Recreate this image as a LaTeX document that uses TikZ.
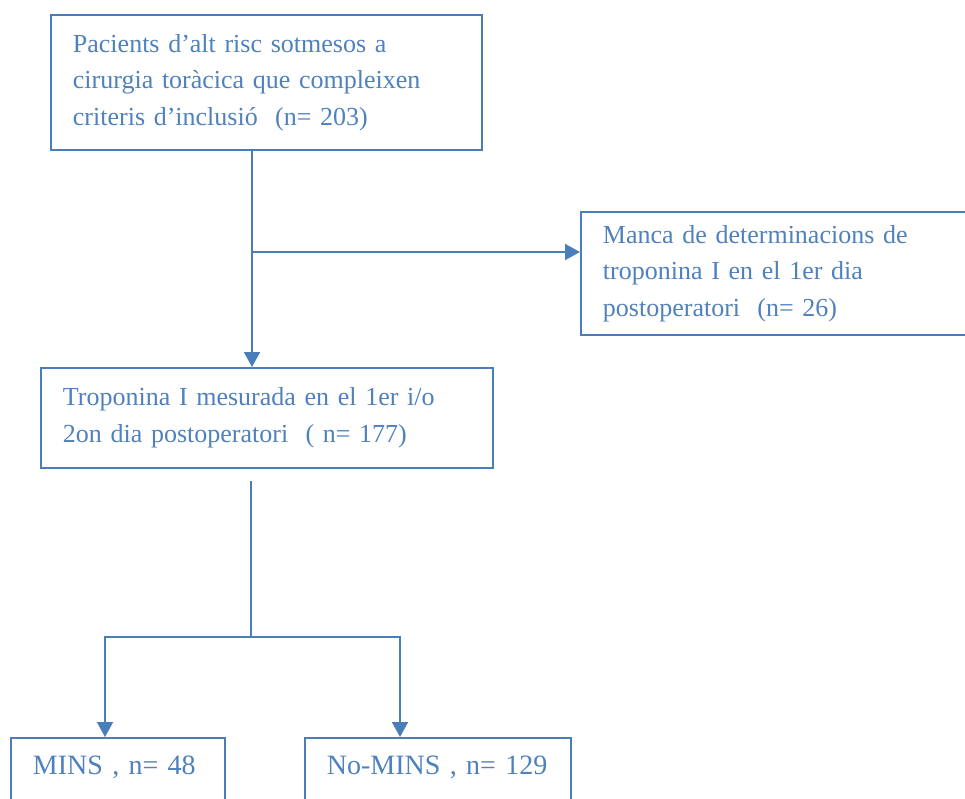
\documentclass[tikz,border=0pt]{standalone}
\usepackage{fontspec}
\setmainfont{Liberation Serif}
\usetikzlibrary{arrows.meta}
\definecolor{flowline}{HTML}{4A7EBB}
\definecolor{flowtext}{HTML}{4F81BD}

\begin{document}
\begin{tikzpicture}[x=1pt,y=-1pt,font=\fontsize{26}{36.5}\selectfont,
  box/.style={draw=flowline,line width=1.9pt,text=flowtext,anchor=north west,
              align=left,inner xsep=22pt},
  leaf/.style={box,font=\fontsize{28}{34}\selectfont,text height=19pt,
               text depth=50pt,inner ysep=18pt},
  arr/.style={flowline,line width=1.9pt,-{Triangle[length=15pt,width=16pt]}}]
  \useasboundingbox (0,0) rectangle (965,798);
  \node[box,text width=387pt,minimum height=135pt] (incl) at (50,14)
       {Pacients d’alt risc sotmesos a\\cirurgia toràcica que compleixen\\criteris d’inclusió~ (n= 203)};
  \node[box,text width=362pt,minimum height=123pt] (excl) at (580,211)
       {Manca de determinacions de\\troponina I en el 1er dia\\postoperatori~ (n= 26)};
  \node[box,text width=408pt,minimum height=100pt] (trop) at (40,367)
       {Troponina I mesurada en el 1er i/o\\2on dia postoperatori~ ( n= 177)};
  \node[leaf,text width=170pt] (mins) at (10,737) {MINS , n= 48};
  \node[leaf,text width=222pt] (nomins) at (304,737) {No-MINS , n= 129};
  \coordinate (stem) at (252,0);
  \coordinate (branch) at (252,252);
  \coordinate (gap) at (251,481);
  \coordinate (forkL) at (105,637);
  \coordinate (forkR) at (400,637);
  \draw[arr] (incl.south -| stem) -- (trop.north -| stem);
  \draw[arr] (branch) -- (branch -| excl.west);
  \draw[flowline,line width=1.9pt] (gap) -- (gap |- forkL);
  \draw[arr] (forkL) -- (forkR) -- (forkR |- nomins.north);
  \draw[arr] (forkR) -- (forkL) -- (forkL |- mins.north);
\end{tikzpicture}
\end{document}
